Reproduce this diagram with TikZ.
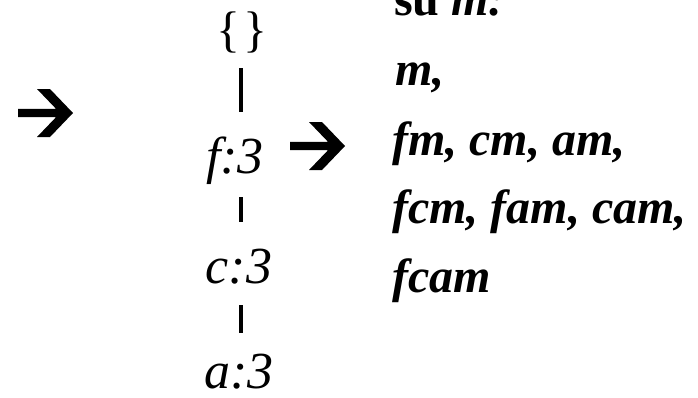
\documentclass[tikz,border=0pt]{standalone}
\usepackage{fontspec}
\setmainfont{Liberation Serif}
\tikzset{
  treelbl/.style={inner sep=0pt, anchor=base, font=\fontsize{52}{60}\selectfont\itshape},
  setlbl/.style={inner sep=0pt, anchor=base, font=\fontsize{50}{60}\selectfont},
  listlbl/.style={inner sep=0pt, anchor=base west, font=\fontsize{48}{58}\selectfont\bfseries\itshape},
  treeline/.style={line width=3.2pt},
  bigarrow/.pic={\fill[black] (0,4.2pt) -- (38pt,4.2pt) -- (19pt,24pt) -- (32pt,24pt) -- (55pt,0pt) -- (32pt,-24pt) -- (19pt,-24pt) -- (38pt,-4.2pt) -- (0,-4.2pt) -- cycle;}
}
\begin{document}
\begin{tikzpicture}[x=1pt,y=1pt]
\useasboundingbox (0,0) rectangle (698,-397);
\clip (0,0) rectangle (698,-397);
% arrows
\pic at (18,-113) {bigarrow};
\pic at (290,-146) {bigarrow};
% tree
\coordinate (axis) at (241,0);
\node[setlbl] (root) at (242,-46) {\{\kern3pt\}};
\node[treelbl] (f) at (235,-173) {f:3};
\node[treelbl] (c) at (239,-283) {c:3};
\node[treelbl] (a) at (239,-388) {a:3};
\draw[treeline] ([yshift=-22pt]root.base -| axis) -- ([yshift=61pt]f.base -| axis);
\draw[treeline] ([yshift=-24pt]f.base -| axis) -- ([yshift=61pt]c.base -| axis);
\draw[treeline] ([yshift=-22pt]c.base -| axis) -- ([yshift=55pt]a.base -| axis);
% list
\node[listlbl] (l0) at (394,-15) {\textup{su} m:};
\node[listlbl] (l1) at (395,-85) {m,};
\node[listlbl] (l2) at (392,-155) {fm, cm, am,};
\node[listlbl] (l3) at (392,-223) {fcm, fam, cam,};
\node[listlbl] (l4) at (392,-292) {fcam};
\end{tikzpicture}
\end{document}
